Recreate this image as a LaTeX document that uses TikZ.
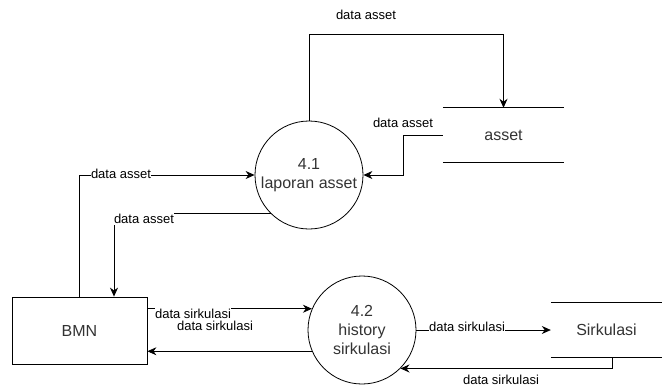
\documentclass[tikz,border=0pt]{standalone}
\usepackage{fontspec}
\setmainfont{Liberation Sans}
\usetikzlibrary{arrows.meta}
\tikzset{
  proc/.style={draw, circle, line width=0.8pt, minimum size=108pt, inner sep=0pt,
    align=center, text=black!80, font=\fontsize{16}{19}\selectfont},
  ent/.style={draw, line width=0.8pt, minimum width=135pt, minimum height=67pt,
    text=black!80, font=\fontsize{16}{19}\selectfont},
  store/.style={minimum width=121pt, minimum height=54pt, inner sep=0pt,
    text=black!80, font=\fontsize{16}{19}\selectfont},
  flow/.style={line width=0.8pt, -{Stealth[length=9pt,width=8pt]}},
  lbl/.style={fill=white, inner xsep=0.5pt, inner ysep=1.5pt, font=\fontsize{13}{14}\selectfont}
}
\begin{document}
\begin{tikzpicture}[x=1pt,y=-1pt]
    \useasboundingbox (0,0) rectangle (662,386);
    % processes, entity, stores
    \node[proc] (p41) at (309,175) {4.1\\laporan asset};
    \node[proc] (p42) at (362,330) {4.2\\history\\sirkulasi};
    \node[ent] (bmn) at (79.5,330.5) {BMN};
    \node[store] (asset) at (503.5,135) {asset};
    \node[store, minimum width=111pt] (sirk) at (606.5,330) {Sirkulasi};
    \draw[line width=0.8pt] (asset.north west) -- (asset.north east);
    \draw[line width=0.8pt] (asset.south west) -- (asset.south east);
    \draw[line width=0.8pt] (sirk.north west) -- (sirk.north east);
    \draw[line width=0.8pt] (sirk.south west) -- (sirk.south east);
    % flows of 4.1
    \draw[flow] (p41.north) -- (p41.north |- 0,34) -| (asset.north);
    \node[lbl] (l1) at (366,15) {data asset};
    \draw[flow] (asset.west) -- (403,135) |- (p41.east);
    \node[lbl] (l2) at (403,123) {data asset};
    \draw[flow] (bmn.north) |- (p41.west);
    \node[lbl] (l3) at (121,174) {data asset};
    \draw[flow] (p41.225) -| ([xshift=34.5pt]bmn.north);
    \node[lbl] (l4) at (144,219) {data asset};
    % flows of 4.2
    \draw[flow] (bmn.east |- p42.157) -- (p42.157);
    \node[lbl] (l5) at (193,314) {data sirkulasi};
    \draw[flow] (p42.203) -- (bmn.east |- p42.203);
    \node[lbl] (l6) at (215,326) {data sirkulasi};
    \draw[flow] (p42.east) -- (sirk.west);
    \node[lbl] (l7) at (467,327) {data sirkulasi};
    \draw[flow] ([xshift=5.5pt]sirk.south) |- (p42.315);
    \node[lbl] (l8) at (501,380) {data sirkulasi};
\end{tikzpicture}
\end{document}
